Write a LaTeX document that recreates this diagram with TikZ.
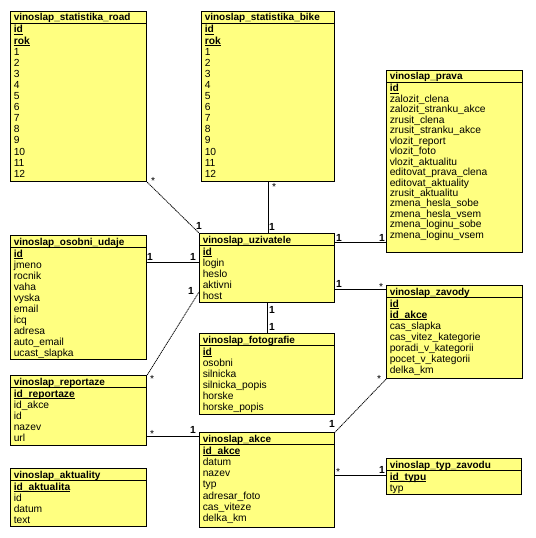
\documentclass[tikz,border=0pt]{standalone}
\usepackage{fontspec}
\setmainfont{Liberation Sans}
\usetikzlibrary{calc}
\definecolor{tblyellow}{RGB}{255,255,128}
\tikzset{
  tbl/.style={draw, line width=0.9pt, fill=tblyellow, rectangle, inner sep=0pt, anchor=north west},
  hdr/.style={anchor=base west, inner sep=0pt, font=\fontsize{7.5}{9}\selectfont\bfseries},
  rowtext/.style={anchor=base west, inner sep=0pt, font=\fontsize{7.7}{9}\selectfont},
  rel/.style={line width=0.75pt},
  reld/.style={line width=0.6pt, dash pattern=on 0.9pt off 0.5pt},
  card/.style={inner sep=0pt, font=\fontsize{7.7}{9}\selectfont\bfseries},
  star/.style={inner sep=0pt, font=\fontsize{7.7}{9}\selectfont},
}
\newcommand\keyf[1]{\setbox0\hbox{\bfseries #1}\rlap{\rule[-1.1pt]{\wd0}{0.6pt}}\box0}
% name, x, y, w, h, title, pitch, rows
\newcommand\erdtable[8]{%
  \node[tbl, minimum width=#4*0.75pt, minimum height=#5*0.75pt] (#1) at (#2,#3) {};
  \draw[line width=0.6pt] ($(#1.north west)+(0,12)$) -- ($(#1.north east)+(0,12)$);
  \node[hdr] (#1-h) at ($(#1.north west)+(3.5,10)$) {#6};
  \foreach \rowtxt [count=\i] in {#8} {
    \node[rowtext] (#1-\i) at ($(#1.north west)+(3.5,{22+(\i-1)*#7})$) {\rowtxt};
  }
}
\begin{document}
\begin{tikzpicture}[x=0.75pt,y=-0.75pt]
\fill[white] (0,0) rectangle (535,538);
\useasboundingbox (0,0) rectangle (535,538);

\erdtable{road}{10}{11}{136}{170}{vinoslap\_statistika\_road}{11.1}{\keyf{id},\keyf{rok},1,2,3,4,5,6,7,8,9,10,11,12}
\erdtable{bike}{201}{11}{133}{170}{vinoslap\_statistika\_bike}{11.1}{\keyf{id},\keyf{rok},1,2,3,4,5,6,7,8,9,10,11,12}
\erdtable{prava}{386}{70}{136}{182}{vinoslap\_prava}{10.45}{\keyf{id},zalozit\_clena,zalozit\_stranku\_akce,zrusit\_clena,zrusit\_stranku\_akce,vlozit\_report,vlozit\_foto,vlozit\_aktualitu,editovat\_prava\_clena,editovat\_aktuality,zrusit\_aktualitu,zmena\_hesla\_sobe,zmena\_hesla\_vsem,zmena\_loginu\_sobe,zmena\_loginu\_vsem}
\erdtable{osobni}{10}{235}{136}{124}{vinoslap\_osobni\_udaje}{11}{\keyf{id},jmeno,rocnik,vaha,vyska,email,icq,adresa,auto\_email,ucast\_slapka}
\erdtable{uz}{199}{233}{135}{69}{vinoslap\_uzivatele}{11}{\keyf{id},login,heslo,aktivni,host}
\erdtable{zav}{386}{285}{136}{93}{vinoslap\_zavody}{11}{\keyf{id},\keyf{id\_akce},cas\_slapka,cas\_vitez\_kategorie,poradi\_v\_kategorii,pocet\_v\_kategorii,delka\_km}
\erdtable{foto}{199}{333}{135}{81}{vinoslap\_fotografie}{11.1}{\keyf{id},osobni,silnicka,silnicka\_popis,horske,horske\_popis}
\erdtable{rep}{10}{375}{136}{70}{vinoslap\_reportaze}{11.1}{\keyf{id\_reportaze},id\_akce,id,nazev,url}
\erdtable{akce}{199}{432}{135}{95}{vinoslap\_akce}{11.3}{\keyf{id\_akce},datum,nazev,typ,adresar\_foto,cas\_viteze,delka\_km}
\erdtable{akt}{10}{468}{136}{58}{vinoslap\_aktuality}{11.1}{\keyf{id\_aktualita},id,datum,text}
\erdtable{typ}{386}{458}{135}{36}{vinoslap\_typ\_zavodu}{11}{\keyf{id\_typu},typ}

% connectors
\draw[reld] (road.south east) -- (uz.north west);
\draw[rel] (bike.south) -- (bike.south |- uz.north);
\draw[rel] ($(osobni.north east)+(0,27)$) coordinate (c3) -- (c3 -| uz.west);
\draw[reld] (rep.north east) -- ($(uz.north west)+(0,59)$);
\draw[rel] ($(uz.north east)+(0,9)$) coordinate (c5) -- (c5 -| prava.west);
\draw[rel] ($(uz.north east)+(0,56)$) coordinate (c6) -- (c6 -| zav.west);
\draw[rel] (uz.south) -- (uz.south |- foto.north);
\draw[reld] (zav.south west) -- (akce.north east);
\draw[rel] ($(rep.north east)+(0,61)$) coordinate (c9) -- (c9 -| akce.west);
\draw[rel] ($(akce.north east)+(0,43)$) coordinate (c10) -- (c10 -| typ.west);

% cardinalities
\node[star] (s1) at (153,181) {*};
\node[card] (n1) at (199,226) {1};
\node[star] (s2) at (274,187) {*};
\node[card] (n2) at (272,227) {1};
\node[card] (n3a) at (150,257) {1};
\node[card] (n3b) at (193,257) {1};
\node[card] (n4) at (191,291) {1};
\node[star] (s4) at (152,379) {*};
\node[card] (n5a) at (339,238) {1};
\node[card] (n5b) at (382,238) {1};
\node[card] (n6) at (339,284) {1};
\node[star] (s6) at (381,287) {*};
\node[card] (n7a) at (272,310) {1};
\node[card] (n7b) at (272,327) {1};
\node[star] (s8) at (379,379) {*};
\node[card] (n8) at (332,424) {1};
\node[star] (s9) at (152,434) {*};
\node[card] (n9) at (193,430) {1};
\node[star] (s10) at (338,472) {*};
\node[card] (n10) at (382,470) {1};
\end{tikzpicture}
\end{document}
